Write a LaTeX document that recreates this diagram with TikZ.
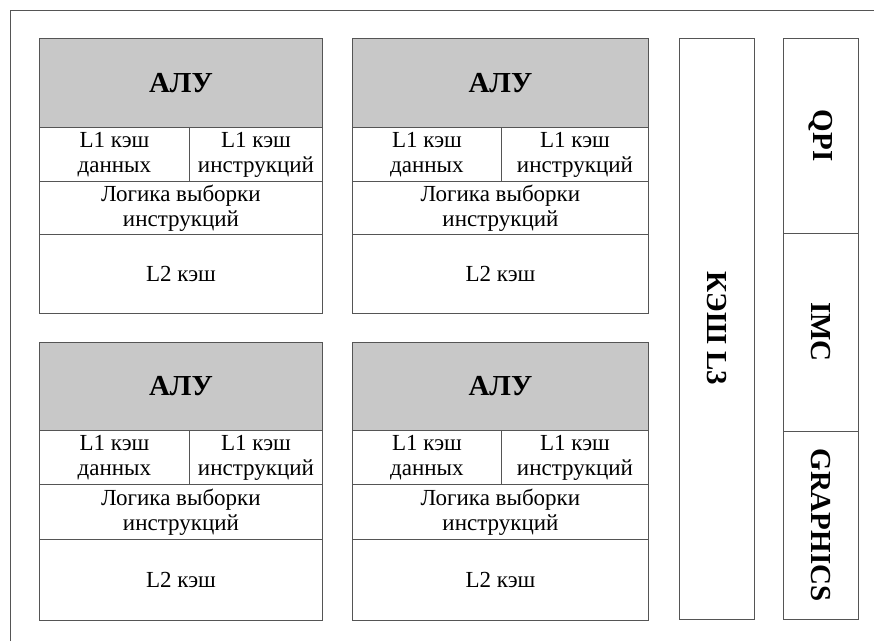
\documentclass[tikz,border=0pt]{standalone}
\usepackage{fontspec}
\setmainfont{Liberation Serif}
\definecolor{alugray}{RGB}{200,200,200}
\definecolor{edgegray}{RGB}{85,85,85}
\tikzset{
  cell/.style={draw=edgegray, line width=0.9pt, rectangle, inner sep=0pt,
    anchor=north west, align=center, font=\fontsize{23}{25}\selectfont},
  alu/.style={cell, fill=alugray, font=\fontsize{29}{30}\selectfont\bfseries},
  side/.style={draw=edgegray, line width=0.9pt, rectangle, inner sep=0pt,
    rotate=-90, font=\fontsize{29}{30}\selectfont\bfseries}
}
\begin{document}
\begin{tikzpicture}[x=1pt, y=-1pt]
      \useasboundingbox (0,0) rectangle (874,641);
      \draw[edgegray, line width=0.9pt] (10,641) -- (10,10) -- (874,10);

      % core, top left
      \node[alu, minimum width=283, minimum height=89] (alu1) at (39,38) {АЛУ};
      \node[cell, minimum width=150, minimum height=54] (l1d1) at (39,127) {L1 кэш\\данных};
      \node[cell, minimum width=133, minimum height=54] (l1i1) at (189,127) {L1 кэш\\инструкций};
      \node[cell, minimum width=283, minimum height=53] (fetch1) at (39,181) {Логика выборки\\инструкций};
      \node[cell, minimum width=283, minimum height=79] (l2c1) at (39,234) {L2 кэш};

      % core, top right
      \node[alu, minimum width=296, minimum height=89] (alu2) at (352,38) {АЛУ};
      \node[cell, minimum width=149, minimum height=54] (l1d2) at (352,127) {L1 кэш\\данных};
      \node[cell, minimum width=147, minimum height=54] (l1i2) at (501,127) {L1 кэш\\инструкций};
      \node[cell, minimum width=296, minimum height=53] (fetch2) at (352,181) {Логика выборки\\инструкций};
      \node[cell, minimum width=296, minimum height=79] (l2c2) at (352,234) {L2 кэш};

      % core, bottom left
      \node[alu, minimum width=283, minimum height=88] (alu3) at (39,342) {АЛУ};
      \node[cell, minimum width=150, minimum height=54] (l1d3) at (39,430) {L1 кэш\\данных};
      \node[cell, minimum width=133, minimum height=54] (l1i3) at (189,430) {L1 кэш\\инструкций};
      \node[cell, minimum width=283, minimum height=55] (fetch3) at (39,484) {Логика выборки\\инструкций};
      \node[cell, minimum width=283, minimum height=81] (l2c3) at (39,539) {L2 кэш};

      % core, bottom right
      \node[alu, minimum width=296, minimum height=88] (alu4) at (352,342) {АЛУ};
      \node[cell, minimum width=149, minimum height=54] (l1d4) at (352,430) {L1 кэш\\данных};
      \node[cell, minimum width=147, minimum height=54] (l1i4) at (501,430) {L1 кэш\\инструкций};
      \node[cell, minimum width=296, minimum height=55] (fetch4) at (352,484) {Логика выборки\\инструкций};
      \node[cell, minimum width=296, minimum height=81] (l2c4) at (352,539) {L2 кэш};

      % shared parts
      \node[side, minimum width=581, minimum height=75] (l3) at (716.5,328.5) {КЭШ L3};
      \node[side, minimum width=195, minimum height=75] (qpi) at (820.5,135.5) {QPI};
      \node[side, minimum width=198, minimum height=75] (imc) at (820.5,332) {IMC};
      \node[side, minimum width=188, minimum height=75] (gfx) at (820.5,525) {GRAPHICS};

    \end{tikzpicture}
\end{document}
